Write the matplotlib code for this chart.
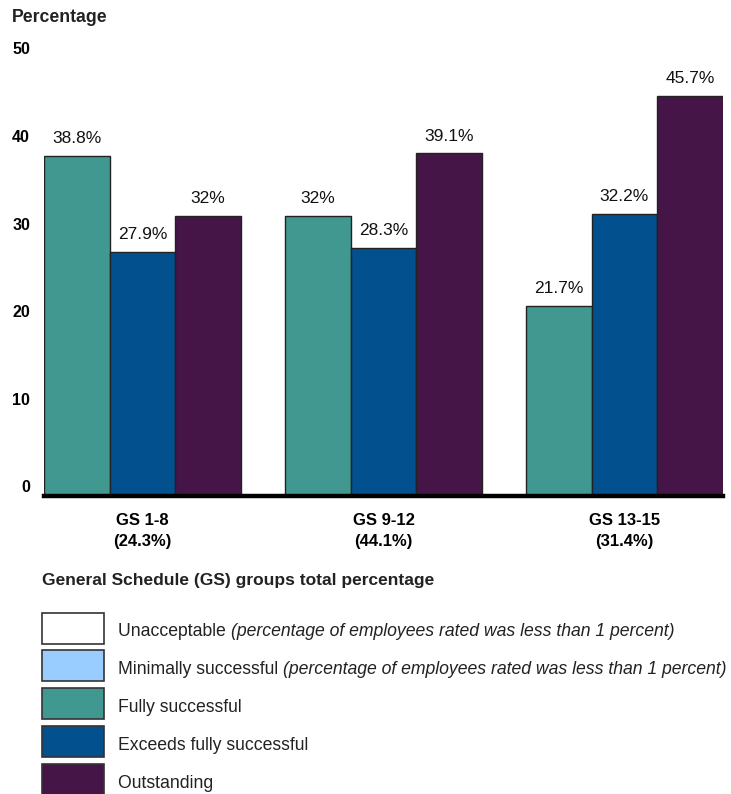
import numpy as np
import matplotlib.pyplot as plt
import matplotlib.transforms as mtransforms
from matplotlib.patches import Rectangle

plt.rcParams['font.family'] = ['Liberation Sans', 'DejaVu Sans']

groups = ['GS 1-8', 'GS 9-12', 'GS 13-15']
group_share = ['24.3%', '44.1%', '31.4%']
fully = [38.8, 32.0, 21.7]
exceeds = [27.9, 28.3, 32.2]
outstanding = [32.0, 39.1, 45.7]
value_text = [['38.8%', '27.9%', '32%'],
              ['32%', '28.3%', '39.1%'],
              ['21.7%', '32.2%', '45.7%']]

legend_names = ['Unacceptable', 'Minimally successful', 'Fully successful',
                'Exceeds fully successful', 'Outstanding']
legend_notes = ['(percentage of employees rated was less than 1 percent)',
                '(percentage of employees rated was less than 1 percent)',
                '', '', '']
colors = ['#ffffff', '#99ccff', '#409891', '#03508f', '#451548']

W, H = 731, 794
fig = plt.figure(figsize=(W / 100, H / 100), dpi=100)
ax = fig.add_axes([44 / W, (H - 496) / H, 679 / W, 438 / H])

x = np.arange(len(groups))
bw = 0.2726
series = [fully, exceeds, outstanding]
for i, vals in enumerate(series):
    bars = ax.bar(x + (i - 1) * bw, vals, bw, color=colors[i + 2],
                  edgecolor='#222222', linewidth=1.0, zorder=2)
    for j, b in enumerate(bars):
        ax.annotate(value_text[j][i], (b.get_x() + b.get_width() / 2, b.get_height()),
                    xytext=(0, 7), textcoords='offset points',
                    ha='center', va='bottom', fontsize=12.5, color='#111111')

ax.set_xlim(-1.5 * bw, 2 + 1.5 * bw)
ax.set_ylim(0, 50)
for s in ['top', 'right', 'left']:
    ax.spines[s].set_visible(False)
ax.spines['bottom'].set_linewidth(3.2)
ax.spines['bottom'].set_color('black')
ax.spines['bottom'].set_zorder(3)

ax.set_xticks(x)
ax.set_xticklabels([f'{g}\n({s})' for g, s in zip(groups, group_share)],
                   fontsize=12, fontweight='bold', linespacing=1.55)
ax.tick_params(axis='x', length=0, pad=12)
ax.set_yticks([])

# y labels sit just above their gridline level
ytrans = mtransforms.blended_transform_factory(fig.transFigure, ax.transData)
off = mtransforms.ScaledTranslation(0, 8 / 100, fig.dpi_scale_trans)
for v in range(0, 51, 10):
    ax.text(30 / W, v, str(v), transform=ytrans + off, ha='right', va='center',
            fontsize=11.5, fontweight='bold', clip_on=False)

fig.text(12 / W, 1 - 17 / H, 'Percentage', fontsize=12.7, fontweight='bold',
         ha='left', va='center', color='#222222')
fig.text(42 / W, 1 - 580 / H, 'General Schedule (GS) groups total percentage',
         fontsize=12.5, fontweight='bold', ha='left', va='center', color='#222222')

# legend drawn as boxes with mixed regular/italic text
renderer = fig.canvas.get_renderer()
tops = [613, 650, 688, 726, 764]
for top, name, note, c in zip(tops, legend_names, legend_notes, colors):
    fig.add_artist(Rectangle((42 / W, 1 - (top + 31) / H), 62 / W, 31 / H,
                             transform=fig.transFigure, facecolor=c,
                             edgecolor='#333333', linewidth=1.2))
    yc = 1 - (top + 19) / H
    t = fig.text(118 / W, yc, name + ' ', fontsize=12.7, ha='left', va='center',
                 color='#222222')
    if note:
        bb = t.get_window_extent(renderer)
        fig.text(bb.x1 / W, yc, note, fontsize=12.7, style='italic',
                 ha='left', va='center', color='#222222')

fig.savefig('out.png', dpi=100)
